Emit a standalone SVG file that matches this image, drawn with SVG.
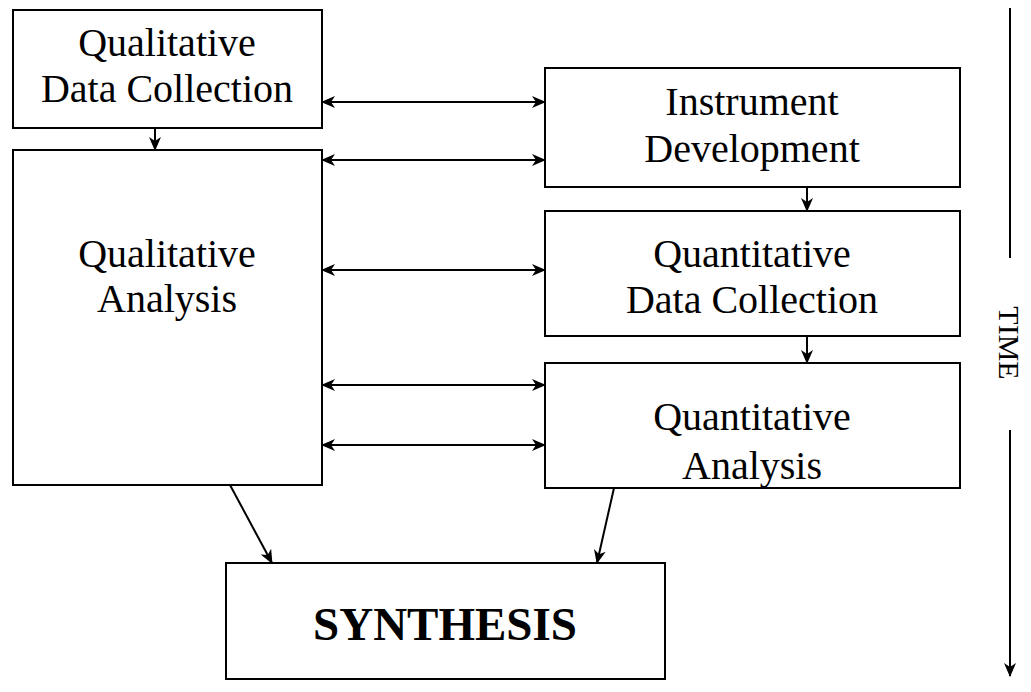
<svg xmlns="http://www.w3.org/2000/svg" width="1031" height="692" viewBox="0 0 1031 692">
<style>
.box{fill:#fff;stroke:#000;stroke-width:2}
.t{font-family:"Liberation Serif","Times New Roman",serif;font-size:40px;fill:#000;text-anchor:middle}
.b{font-weight:bold;font-size:47px}
.c{stroke:#000;stroke-width:2;fill:none}
</style>
<defs>
<marker id="ah" viewBox="0 0 14 12" refX="13" refY="6" markerWidth="14" markerHeight="12" markerUnits="userSpaceOnUse" orient="auto-start-reverse">
<path d="M0,0 L14,6 L0,12 L4,6 z" fill="#000"/>
</marker>
</defs>
<g id="qual-data-collection">
<rect class="box" x="13" y="10" width="309" height="118"/>
<text class="t" x="167" y="56">Qualitative</text>
<text class="t" x="167" y="102">Data Collection</text>
</g>
<g id="qual-analysis">
<rect class="box" x="13" y="150" width="309" height="335"/>
<text class="t" x="167" y="267">Qualitative</text>
<text class="t" x="167" y="312">Analysis</text>
</g>
<g id="instrument-development">
<rect class="box" x="545" y="68" width="415" height="119"/>
<text class="t" x="752" y="115">Instrument</text>
<text class="t" x="752" y="162">Development</text>
</g>
<g id="quant-data-collection">
<rect class="box" x="545" y="211" width="415" height="125"/>
<text class="t" x="752" y="267">Quantitative</text>
<text class="t" x="752" y="313">Data Collection</text>
</g>
<g id="quant-analysis">
<rect class="box" x="545" y="363" width="415" height="125"/>
<text class="t" x="752" y="430">Quantitative</text>
<text class="t" x="752" y="479">Analysis</text>
</g>
<g id="synthesis">
<rect class="box" x="226" y="563" width="439" height="116"/>
<text class="t b" x="445" y="640">SYNTHESIS</text>
</g>
<g id="time">
<line class="c" x1="1010" y1="8" x2="1010" y2="258"/>
<text class="t" x="0" y="0" style="font-size:30px" transform="translate(999,343) rotate(90)">TIME</text>
<line class="c" x1="1010" y1="430" x2="1010" y2="676" marker-end="url(#ah)"/>
</g>
<g id="connectors">
<line class="c" x1="155" y1="128" x2="155" y2="150" marker-end="url(#ah)"/>
<line class="c" x1="322" y1="102" x2="545" y2="102" marker-start="url(#ah)" marker-end="url(#ah)"/>
<line class="c" x1="322" y1="160" x2="545" y2="160" marker-start="url(#ah)" marker-end="url(#ah)"/>
<line class="c" x1="322" y1="270" x2="545" y2="270" marker-start="url(#ah)" marker-end="url(#ah)"/>
<line class="c" x1="322" y1="385" x2="545" y2="385" marker-start="url(#ah)" marker-end="url(#ah)"/>
<line class="c" x1="322" y1="445" x2="545" y2="445" marker-start="url(#ah)" marker-end="url(#ah)"/>
<line class="c" x1="807" y1="187" x2="807" y2="211" marker-end="url(#ah)"/>
<line class="c" x1="807" y1="336" x2="807" y2="363" marker-end="url(#ah)"/>
<line class="c" x1="230" y1="485" x2="272" y2="563" marker-end="url(#ah)"/>
<line class="c" x1="614" y1="488" x2="597" y2="563" marker-end="url(#ah)"/>
</g>
</svg>
